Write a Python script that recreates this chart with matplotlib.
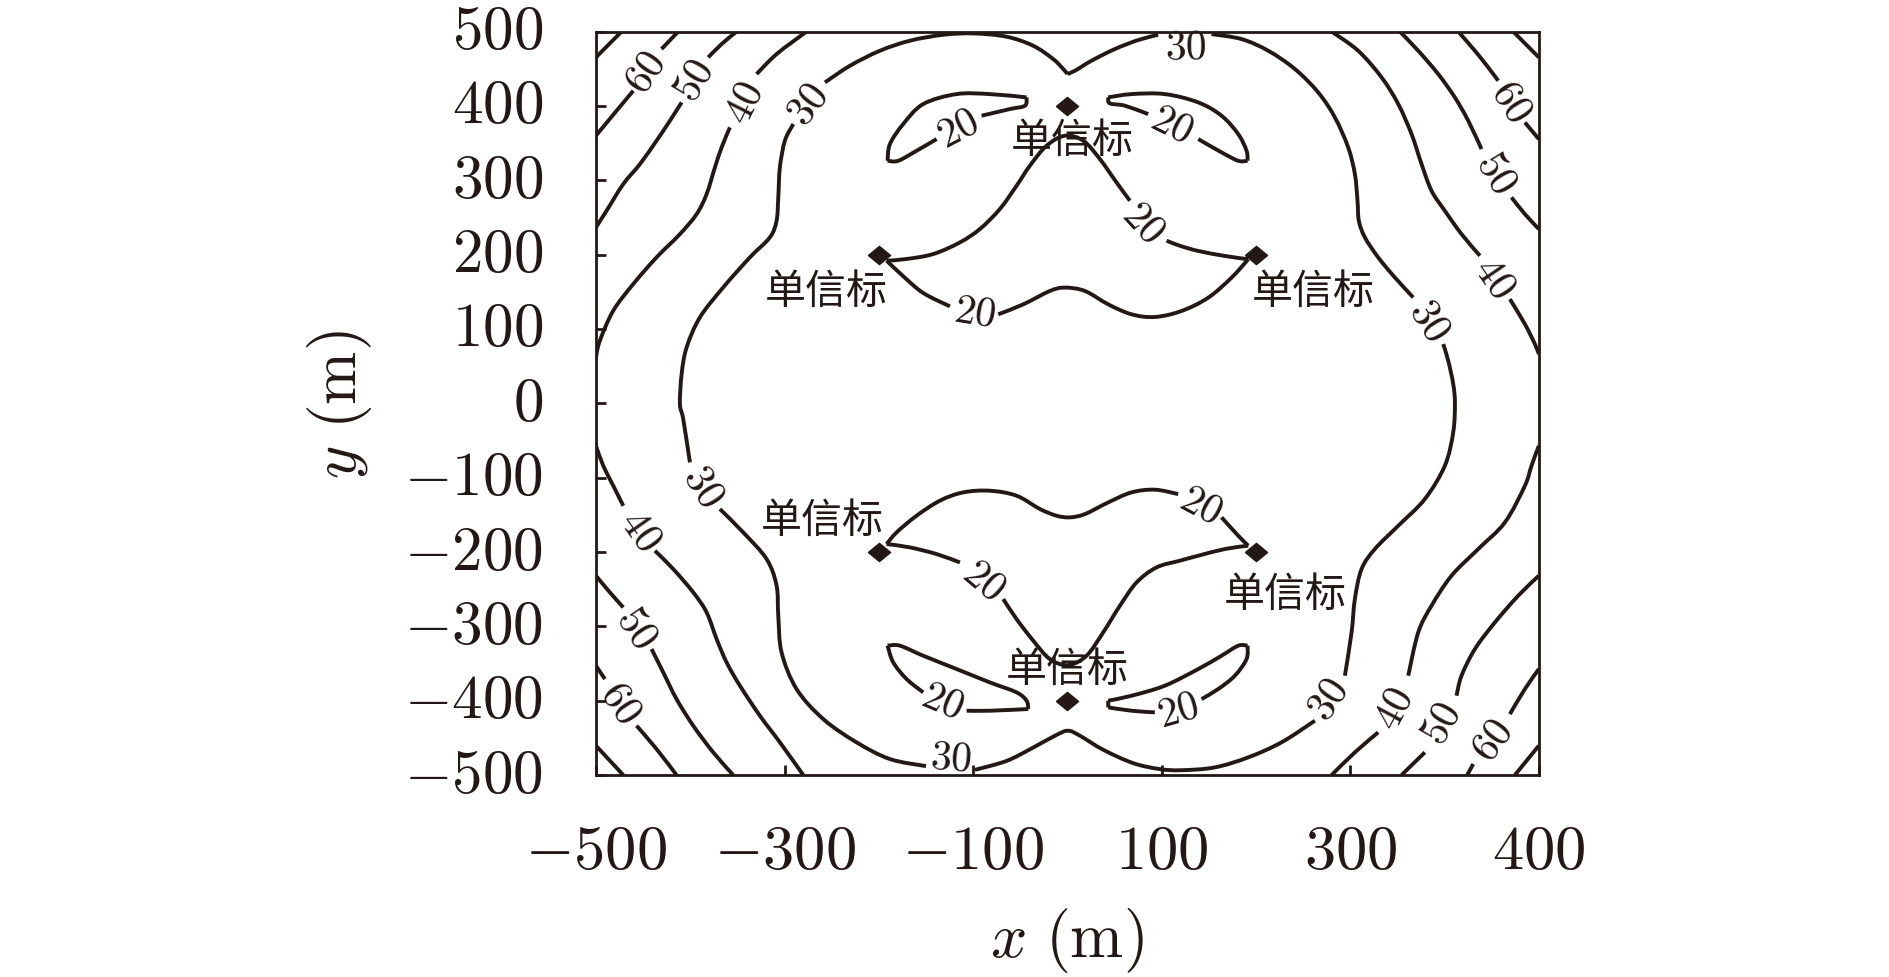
import numpy as np
import matplotlib
matplotlib.use('Agg')
import matplotlib.pyplot as plt
from matplotlib.path import Path
from matplotlib.patches import PathPatch

INK = '#231815'
G = None   # gap in a contour line where its label sits

# beacons (m) and their captions
beacon_x = [0, -200, 200, -200, 200, 0]
beacon_y = [400, 200, 200, -200, -200, -400]
caption = '单信标'
caption_x = [5, -256, 261, -260, 231, 0]
caption_y = [353, 151, 151, -157, -257, -358]

# axis ticks (the last x label reads 400 in the original)
x_ticks = [-500, -300, -100, 100, 300, 500]
x_tick_labels = ['-500', '-300', '-100', '100', '300', '400']
y_ticks = [-500, -400, -300, -200, -100, 0, 100, 200, 300, 400, 500]

# contour lines, (x, y) in metres
lvl70_tl = [(-472.8, 500), (-500, 465.3)]
lvl70_tr = [(472.8, 500), (500, 465.3)]
lvl70_bl = [(-500, -460.5), (-471, -500)]
lvl70_br = [(500, -460.5), (474.6, -500)]

lvl60_tl = [(-412.7, 500), (-430.4, 476.5), G, (-460.4, 420.4), (-478.1, 393.5), (-500, 360)]
lvl60_tr = [(414.5, 500), (432.2, 474.2), (446.3, 451.8), (456.9, 433.9), G,
            (485.2, 377.8), (500, 355.4)]
lvl60_bl = [(-500, -352.9), (-490.5, -370.9), G, (-456.9, -433.6), (-435.7, -465), (-414.5, -500)]
lvl60_br = [(500, -357.4), (485.2, -384.3), (469.3, -418), G, (430.4, -485.2), (424, -500)]

lvl50_tl = [(-350.8, 500), (-366.7, 483.2), (-380.9, 465.3), G, (-409.1, 404.7), (-421.5, 380.1),
            (-435.7, 353.2), (-453.3, 321.8), (-471, 294.9), (-488.7, 259), (-500, 236.6)]
lvl50_tr = [(352.6, 500), (372.1, 474.2), (393.3, 442.8), (410.9, 411.5), (425.1, 380.1),
            (439.2, 342), G, (471, 277), (485.2, 254.5), (500, 234.4)]
lvl50_bl = [(-500, -231.9), (-485.2, -254.3), (-471, -274.5), G, (-441, -330.5), (-428.6, -361.9),
            (-414.5, -397.8), (-396.8, -433.6), (-375.6, -469.5), (-354.4, -500)]
lvl50_br = [(500, -231.9), (478.1, -258.8), (453.4, -294.7), (432.2, -330.5), (418, -366.4),
            (412.7, -393.3), G, (379.1, -469.5), (354.4, -500)]

lvl40_tl = [(-276.6, 500), (-308.4, 469.7), (-329.6, 442.8), G, (-357.9, 371.1), (-366.7, 344.2),
            (-373.8, 317.3), (-382.6, 281.4), (-393.2, 254.5), (-410.9, 227.6), (-435.7, 196.3),
            (-460.4, 160.4), (-481.6, 124.6), (-495.8, 84.2), (-500, 61.8)]
lvl40_tr = [(280.2, 500), (308.4, 474.2), (333.2, 438.4), (350.9, 402.5), (365, 362.1),
            (375.6, 321.8), (386.2, 285.9), (400.3, 259), (418, 227.6), (437.5, 198.5), G,
            (469.3, 140.2), (485.2, 106.6), (495.8, 79.7), (500, 66.2)]
lvl40_bl = [(-500, -57.1), (-492.2, -84), (-481.6, -110.9), (-471, -137.8), G, (-437.4, -198.3),
            (-418, -222.9), (-396.8, -254.3), (-382.6, -281.2), (-372, -317.1), (-361.4, -348.5),
            (-347.3, -379.8), (-326.1, -420.2), (-304.9, -456), (-280.1, -500)]
lvl40_br = [(500, -57.1), (492.2, -84), (485.2, -110.9), (464, -160.2), (435.7, -196),
            (407.4, -231.9), (386.2, -272.2), (372.1, -308.1), (361.5, -366.4), G,
            (329.6, -442.6), (304.9, -469.5), (280.2, -500)]

lvl30_loop = [(0, 443), (8, 447.3), (25.6, 460.8), (50.4, 476.5), (75.1, 488.6), (96.3, 495.7), G,
              (152.9, 496.6), (184.7, 489.9), (213, 474.2), (241.3, 449.6), (266, 418.2),
              (283.7, 384.6), (297.8, 344.2), (304.9, 308.4), (307.7, 272.5), (309.1, 245.6),
              (315.5, 223.2), (329.6, 196.3), (347.3, 169.3), (366.8, 142.4), G,
              (398.6, 79.7), (403.9, 57.3), (409.2, 25.9), (411, 0), (409.2, -39.1), (400.3, -84),
              (379.1, -128.8), (350.9, -164.7), (326.1, -196), (312, -222.9), (304.9, -263.3),
              (301.4, -308.1), (294.3, -366.4), G, (262.5, -426.9), (227.1, -456),
              (191.8, -476.2), (156.4, -489.7), (121.1, -493.5), (98, -492), (69.8, -484),
              (38, -466), (13.3, -447.1), (0.9, -440.4), (-11.5, -446), (-36.2, -463),
              (-64.5, -481), (-98, -493), G, (-150, -488), (-188.2, -478.5), (-223.6, -456),
              (-258.9, -424.7), (-287.2, -384.3), (-303.1, -335), (-306.6, -285.7),
              (-308.4, -245.3), (-319, -209.5), (-343.8, -173.6), (-368.5, -142.2), G,
              (-400.3, -79.5), (-407.4, -21.2), (-410.9, -1), (-409.1, 39.4), (-403.8, 75.2),
              (-389.7, 115.6), (-365, 155.9), (-336.7, 196.3), (-315.5, 223.2), (-308.4, 245.6),
              (-306.6, 277), (-304.9, 317.3), (-299.6, 353.2), (-290.7, 375.6), G,
              (-257.1, 431.6), (-230.6, 454), (-198.8, 474.2), (-167, 487.7), (-131.7, 495.7),
              (-99.8, 497.5), (-64.5, 493.1), (-36.2, 480.9), (-15, 463), (-4.4, 449.6), (0, 443)]

lvl20_upper_loop = [(-191.7, 191.8), (-170.5, 194.1), (-142.2, 200.8), (-114, 216.4), (-92.8, 234.4),
                    (-71.6, 261.3), (-53.9, 292.6), (-39.8, 319.5), (-22.1, 346.4), (-2.6, 359.9),
                    (16.8, 353.2), (34.5, 328.5), (52.1, 297.1), (66.3, 272.5), G,
                    (105.2, 218.7), (119.3, 211.9), (138.8, 204.9), (167, 198.2), (191.8, 193.7),
                    (174.1, 169), (149.4, 142.1), (121.1, 124.2), (92.8, 116.1), (68.1, 119.7),
                    (43.3, 133.1), (18.6, 151.1), (-2.65, 155.6), (-18.5, 151.1), (-46.8, 133.1),
                    (-73.3, 119.7), G, (-124.6, 130.4), (-152.9, 148.4), (-174, 170.8),
                    (-191.7, 191.8)]
lvl20_lower_loop = [(-191.7, -189.3), (-181.1, -173.6), (-159.9, -151.2), (-135.2, -131),
                    (-110.4, -119.8), (-82.2, -117.6), (-53.9, -124.3), (-29.1, -142.2),
                    (-11.5, -151.2), (2.7, -153.4), (18.6, -149), (43.3, -133.3), (68.1, -119.8),
                    (92.8, -116.2), (117.5, -122.1), G, (163.5, -153.4), (181.2, -178.1),
                    (191.8, -191.5), (167, -196), (138.8, -205), (119.3, -211.7), (94.6, -220.7),
                    (73.4, -240.9), (55.7, -272.3), (38, -308.1), (20.3, -339.5), (0.9, -352.1),
                    (-18.6, -344), (-36.2, -319.3), (-53.9, -290.2), (-68, -263.3), G,
                    (-114, -214), (-138.7, -202.8), (-167, -193.8), (-191.7, -189.3)]
lvl20_ul = [(-43.3, 411.5), (-82.2, 415.9), (-117.5, 415.9), (-152.9, 402.5), (-174.1, 375.6),
            (-188.2, 348.7), (-190.7, 326.2), (-179.4, 326.2), (-159.9, 339.7), (-138.7, 355.4), G,
            (-91, 386.8), (-60.9, 395.8), (-45, 400.3), (-43.3, 411.5)]
lvl20_ur = [(43.3, 411.5), (68.1, 415.9), (103.4, 415.9), (138.8, 404.7), (163.5, 386.8),
            (181.2, 362.1), (190, 339.7), (191.1, 326.2), (181.2, 326.2), (163.5, 337.5),
            (138.8, 355.4), G, (85.7, 389), (61, 400.3), (45, 403.4), (43.3, 411.5)]
lvl20_ll = [(-190.7, -326), (-177.6, -326), (-152.9, -339.5), (-117.5, -357.4), (-82.2, -375.4),
            (-53.9, -388.8), (-43.3, -400), (-41.5, -411.2), (-82.2, -413.5), (-106.9, -413.5), G,
            (-152.9, -388.8), (-170.5, -370.9), (-184.7, -348.4), (-190.7, -326)]
lvl20_lr = [(43.3, -400), (68.1, -393.3), (103.4, -379.8), (138.8, -357.4), (163.5, -339.5),
            (181.2, -326), (191.1, -326), (190, -344), (177.6, -366.4), (160, -384.3),
            (142.3, -397.8), G, (92.8, -415.7), (68.1, -413.5), (43.3, -409), (43.3, -400)]

# inline contour labels: (text, x, y)
contour_labels = [
    ('60', -447, 446), ('60', 471, 406), ('60', -474, -402), ('60', 451, -452),
    ('50', -395, 435), ('50', 455, 310), ('50', -457, -301), ('50', 397, -430),
    ('40', -342, 405), ('40', 453, 169), ('40', -453, -171), ('40', 347, -410),
    ('30', -275, 403), ('30', 126, 479), ('30', 384, 112), ('30', -386, -111),
    ('30', -123, -476), ('30', 277, -398),
    ('20', -116, 371), ('20', 111, 376), ('20', -98, 124), ('20', 81, 244),
    ('20', -132, -400), ('20', 118, -412), ('20', -88, -237), ('20', 142, -136),
]

pieces = [lvl70_tl, lvl70_tr, lvl70_bl, lvl70_br,
          lvl60_tl, lvl60_tr, lvl60_bl, lvl60_br,
          lvl50_tl, lvl50_tr, lvl50_bl, lvl50_br,
          lvl40_tl, lvl40_tr, lvl40_bl, lvl40_br,
          lvl30_loop,
          lvl20_upper_loop, lvl20_lower_loop, lvl20_ul, lvl20_ur, lvl20_ll, lvl20_lr]


def runs_of(p):
    # split a traced line at its label gaps; closed lines are rotated to start after a gap
    if p[0] == p[-1] and G in p:
        g = p.index(G)
        p = p[g + 1:] + p[1:g]
    runs, cur = [], []
    for q in p:
        if q is G:
            runs.append(cur)
            cur = []
        else:
            cur.append(q)
    runs.append(cur)
    return runs


def split_corners(run, tr):
    # keep sharp corners (cusps at beacons, crescent tips) sharp
    d = tr.transform(run)
    out, cur = [], [run[0]]
    for i in range(1, len(run) - 1):
        cur.append(run[i])
        a = d[i] - d[i - 1]
        b = d[i + 1] - d[i]
        cosang = np.dot(a, b) / (np.linalg.norm(a) * np.linalg.norm(b))
        if cosang < 0.3:
            out.append(cur)
            cur = [run[i]]
    cur.append(run[-1])
    out.append(cur)
    return out


def smooth_patch(run, **kw):
    P = np.asarray(run, float)
    verts, codes = [P[0]], [Path.MOVETO]
    for i in range(len(P) - 1):
        p0 = P[i - 1] if i > 0 else P[i]
        p1, p2 = P[i], P[i + 1]
        p3 = P[i + 2] if i + 2 < len(P) else P[i + 1]
        verts += [p1 + (p2 - p0) / 6, p2 - (p3 - p1) / 6, p2]
        codes += [Path.CURVE4] * 3
    return PathPatch(Path(verts, codes), fill=False, **kw)


plt.rcParams['mathtext.fontset'] = 'cm'

fig = plt.figure(figsize=(18.9, 9.78), dpi=100)
ax = fig.add_axes([0.3153, 0.2065, 0.4989, 0.7602])
ax.set_xlim(-500, 500)
ax.set_ylim(-500, 500)

for p in pieces:
    for run in runs_of(p):
        for seg in split_corners(run, ax.transData):
            ax.add_patch(smooth_patch(seg, edgecolor=INK, lw=2.8,
                                      joinstyle='round', capstyle='butt'))

# label angle = direction of the line across its gap, in screen space
gaps = []
for p in pieces:
    for i, q in enumerate(p):
        if q is G:
            a = ax.transData.transform(p[i - 1])
            b = ax.transData.transform(p[i + 1])
            ang = np.degrees(np.arctan2(b[1] - a[1], b[0] - a[0]))
            if ang > 90:
                ang -= 180
            if ang < -90:
                ang += 180
            gaps.append(((a + b) / 2, ang))

for txt, lx, ly in contour_labels:
    c = ax.transData.transform((lx, ly))
    mid, ang = min(gaps, key=lambda g: np.hypot(*(g[0] - c)))
    ax.text(lx, ly, '$' + txt + '$', fontsize=30, color=INK, rotation=ang,
            rotation_mode='anchor', ha='center', va='center')

diamond = [(-1, 0), (0, 0.82), (1, 0), (0, -0.82), (-1, 0)]
ax.plot(beacon_x, beacon_y, ls='none', marker=diamond, ms=16, color=INK, zorder=5)
for cx, cy in zip(caption_x, caption_y):
    ax.text(cx, cy, caption, fontsize=29.5, family=['Noto Sans CJK SC', 'DejaVu Sans'],
            color=INK, ha='center', va='center', zorder=6)

ax.set_xticks(x_ticks)
ax.set_xticklabels(['$' + s + '$' for s in x_tick_labels])
ax.set_yticks(y_ticks)
ax.set_yticklabels(['$' + str(v) + '$' for v in y_ticks])
for lbl in ax.get_yticklabels():
    lbl.set_va('center')
ax.tick_params(direction='in', length=7, width=2, color=INK, labelcolor=INK,
               top=False, right=False)
ax.tick_params(axis='x', labelsize=45, pad=33)
ax.tick_params(axis='y', labelsize=44, pad=38)
for s in ax.spines.values():
    s.set_linewidth(2.0)
    s.set_color(INK)

ax.set_xlabel(r'$x\ (\mathrm{m})$', fontsize=46, color=INK)
ax.xaxis.set_label_coords(0.5, -0.2206)
ax.xaxis.label.set_va('center')
ax.set_ylabel(r'$y\ (\mathrm{m})$', fontsize=46, color=INK)
ax.yaxis.set_label_coords(-0.2715, 0.5)
ax.yaxis.label.set_va('center')

fig.savefig('out.png', dpi=100)
